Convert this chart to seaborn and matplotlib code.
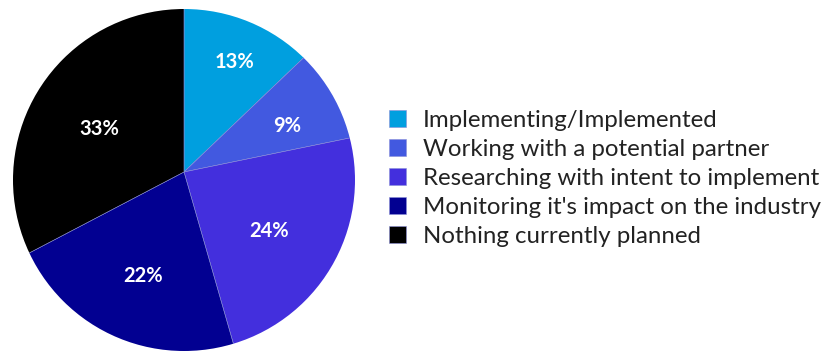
import numpy as np
import matplotlib
matplotlib.use("Agg")
import matplotlib.pyplot as plt
from matplotlib.patches import Circle
import seaborn as sns

categories = [
    "Implementing/Implemented",
    "Working with a potential partner",
    "Researching with intent to implement",
    "Monitoring it's impact on the industry",
    "Nothing currently planned",
]
shares = [13, 9, 24, 22, 33]
colors = ["#009FDF", "#4259E0", "#432FDD", "#020091", "#000000"]
# radial position of each percentage label, as a fraction of the radius
label_radius = [0.75, 0.68, 0.58, 0.61, 0.58]

sns.set_theme(style="white")
plt.rcParams["font.family"] = ["Lato", "DejaVu Sans"]

W, H = 821, 351
fig = plt.figure(figsize=(W / 100, H / 100), dpi=100)
fig.patch.set_facecolor("white")

# pie area in pixels: left, top, size
px_l, px_t, px_s = 13, 9, 342
ax = fig.add_axes([px_l / W, 1 - (px_t + px_s) / H, px_s / W, px_s / H])

# the slices meet slightly above the middle of the round outline
hub = (0.0, 0.047)
wedges, _ = ax.pie(
    shares,
    colors=colors,
    startangle=90,
    counterclock=False,
    radius=1.1,
    center=hub,
    wedgeprops=dict(edgecolor="#8a8fd8", linewidth=0.4),
)
ax.set_xlim(-1, 1)
ax.set_ylim(-1, 1)
ax.set_aspect("equal")
ax.axis("off")
outline = Circle((0, 0), 1.0, transform=ax.transData)
for w in wedges:
    w.set_clip_on(True)
    w.set_clip_path(outline)

# percentage labels sit along each slice's middle direction from the outline's centre
for w, val, r in zip(wedges, shares, label_radius):
    mid = np.deg2rad((w.theta1 + w.theta2) / 2)
    ax.text(r * np.cos(mid), r * np.sin(mid), f"{val}%",
            ha="center", va="center", color="white",
            fontsize=14.5, fontweight="bold", family=["Lato", "DejaVu Sans"])

leg = fig.legend(
    wedges, categories,
    loc="upper left",
    bbox_to_anchor=(379 / W, 1 - 100 / H),
    frameon=False,
    fontsize=17.3,
    handlelength=0.74,
    handleheight=0.74,
    handletextpad=0.68,
    labelspacing=0.33,
    borderaxespad=0,
)
for t in leg.get_texts():
    t.set_color("#222222")

fig.savefig("out.png", dpi=100, facecolor="white")
